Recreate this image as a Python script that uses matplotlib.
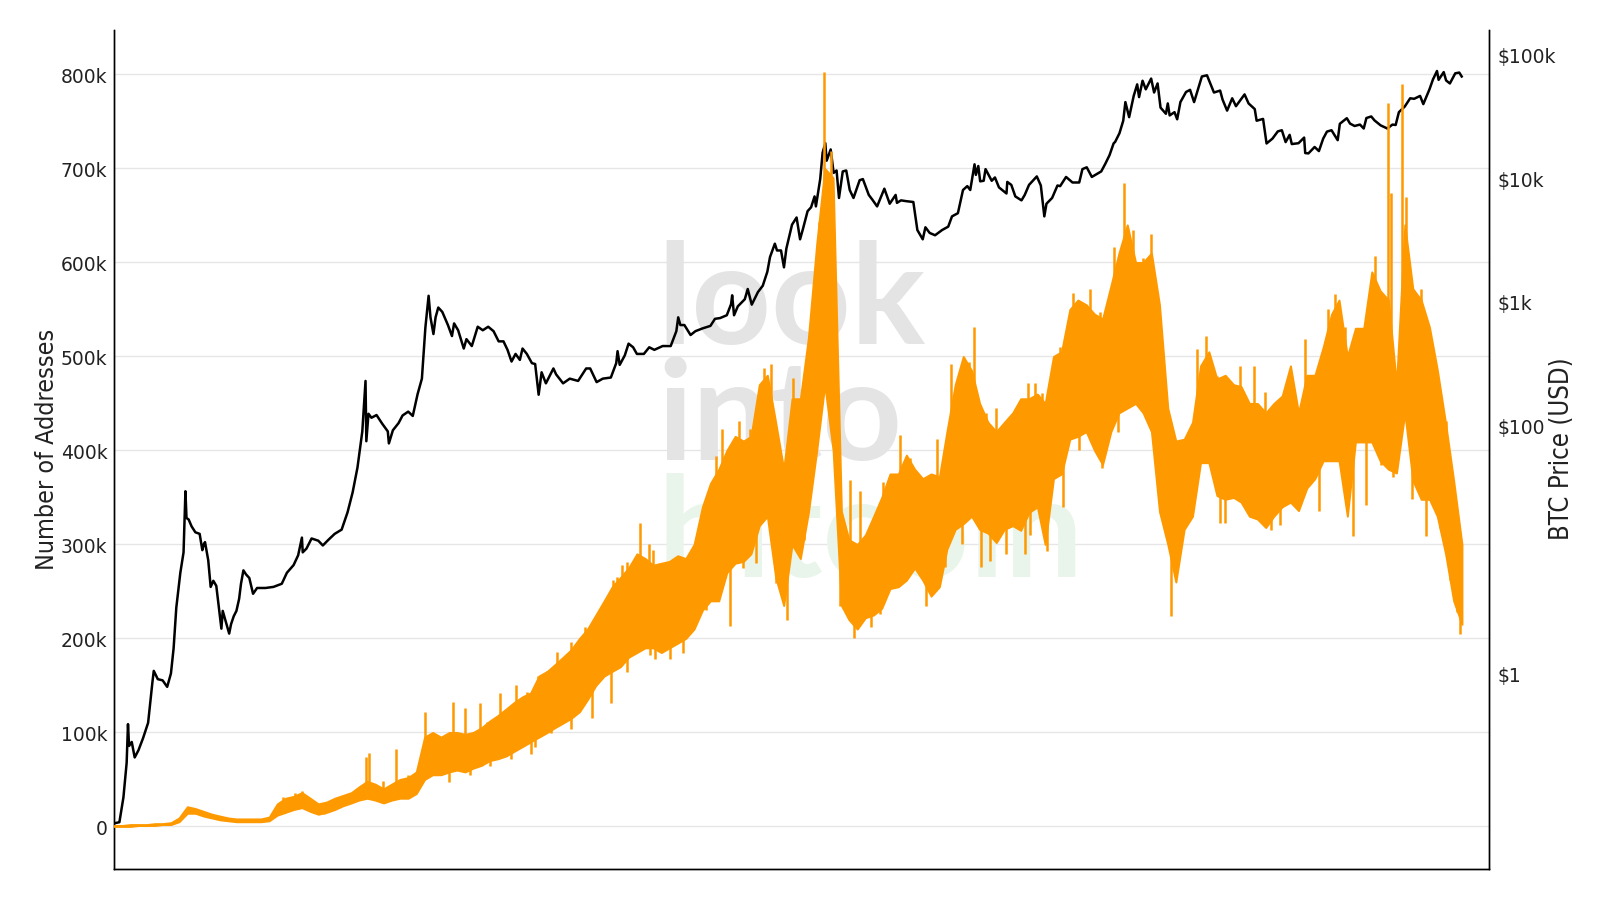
import numpy as np
import pandas as pd
import matplotlib
matplotlib.use("Agg")
import matplotlib.pyplot as plt
from matplotlib.transforms import blended_transform_factory
from matplotlib.ticker import NullLocator
from matplotlib import font_manager as fm

# ---------------- data ----------------
# Monthly dense band of the daily "Number of Addresses" series (thousands), Sep 2010 .. Jun 2024
addr_low_k = [
    0, 0, 0, 1,
    1, 1, 2, 2, 5, 14, 14, 11, 9, 7, 6, 5,
    5, 5, 5, 6, 12, 15, 18, 20, 16, 13, 15, 18,
    22, 25, 28, 30, 28, 25, 28, 30, 30, 35, 50, 55,
    55, 58, 60, 58, 62, 65, 70, 72, 75, 80, 85, 90,
    95, 100, 105, 110, 115, 122, 135, 150, 160, 165, 170, 180,
    185, 190, 190, 185, 190, 195, 200, 210, 230, 240, 240, 270,
    280, 282, 290, 320, 330, 265, 235, 300, 285, 334, 400, 470,
    400, 235, 220, 210, 222, 225, 232, 253, 255, 262, 275, 262,
    245, 255, 295, 316, 322, 330, 316, 312, 302, 316, 320, 315,
    334, 340, 300, 370, 375, 412, 415, 420, 400, 385, 420, 440,
    445, 450, 440, 420, 335, 300, 260, 316, 330, 387, 387, 352,
    348, 350, 345, 330, 327, 318, 330, 340, 345, 336, 360, 370,
    389, 389, 389, 330, 409, 409, 409, 389, 380, 376, 440, 368,
    348, 348, 330, 290, 240, 215,
]
addr_high_k = [
    1, 1, 2, 2,
    2, 3, 3, 4, 9, 21, 19, 16, 13, 11, 9, 8,
    8, 8, 8, 10, 24, 30, 32, 36, 30, 24, 26, 30,
    33, 36, 42, 48, 45, 40, 45, 50, 52, 58, 95, 100,
    95, 100, 100, 98, 100, 105, 112, 118, 125, 132, 138, 142,
    160, 165, 172, 180, 188, 200, 210, 225, 240, 255, 265, 275,
    290, 285, 278, 280, 282, 288, 285, 300, 340, 365, 380, 400,
    415, 410, 415, 470, 480, 430, 380, 455, 455, 520, 620, 700,
    690, 335, 305, 300, 310, 330, 350, 375, 375, 395, 380, 370,
    375, 372, 420, 470, 500, 485, 450, 430, 420, 430, 440, 455,
    455, 460, 450, 500, 505, 550, 560, 555, 545, 540, 575, 610,
    640, 600, 600, 610, 555, 445, 410, 412, 430, 490, 505, 476,
    480, 470, 468, 450, 450, 440, 450, 458, 490, 440, 480, 480,
    510, 545, 560, 500, 530, 530, 590, 570, 560, 470, 640, 572,
    560, 531, 486, 429, 368, 300,
]

# Single-day extremes (spikes) of the address series: decimal year, value (thousands)
spike_year = [
    2012.43, 2012.55, 2012.62, 2013.10, 2013.27, 2013.30, 2013.58, 2013.88, 2014.16, 2014.51,
    2014.72, 2014.92, 2015.03, 2015.12, 2015.39, 2015.51, 2015.71, 2015.83, 2015.94, 2016.07,
    2016.16, 2016.31, 2016.44, 2016.58, 2016.68, 2016.77, 2016.85, 2016.91, 2017.08, 2017.19,
    2017.33, 2017.40, 2017.63, 2017.73, 2017.84, 2017.89, 2017.94, 2018.02, 2018.04, 2018.21,
    2018.31, 2018.55, 2018.72, 2018.82, 2019.10, 2019.24, 2019.31, 2019.43, 2019.48, 2019.60,
    2019.88, 2020.03, 2020.10, 2020.17, 2020.35, 2020.49, 2020.66, 2020.76, 2020.91, 2021.01,
    2021.10, 2021.20, 2021.28, 2021.34, 2021.75, 2021.84, 2021.95, 2022.19, 2022.33, 2022.44,
    2022.53, 2022.63, 2022.85, 2023.00, 2023.09, 2023.16, 2023.26, 2023.40, 2023.45, 2023.50,
    2023.57, 2023.63, 2023.70, 2023.73, 2023.84, 2023.88, 2023.96, 2024.04, 2024.16, 2024.29,
    2014.28, 2014.44, 2014.64, 2014.80, 2015.22, 2015.37, 2015.68, 2015.79, 2015.89, 2016.20,
    2016.36, 2016.52, 2013.00, 2013.45, 2013.70, 2013.80, 2019.70, 2019.95,
    2015.00, 2016.17, 2016.22, 2016.38, 2016.51, 2016.99, 2017.46, 2017.57, 2017.74, 2018.11,
    2018.25, 2018.43, 2018.52, 2018.99, 2019.18, 2019.55, 2019.64, 2019.995, 2020.22, 2020.39,
    2020.78, 2021.44, 2021.48, 2021.54, 2021.61, 2021.98, 2022.04, 2022.39, 2022.51, 2022.60,
    2022.99, 2023.34, 2023.48, 2023.63, 2023.75, 2023.94, 2024.09, 2024.23, 2024.33, 2024.40,
    2024.43,
    2014.12, 2014.33, 2014.54, 2014.75, 2014.96, 2015.16, 2015.37, 2015.58, 2015.77, 2015.94,
    2016.74, 2017.12, 2017.25, 2012.70, 2012.85, 2019.35, 2019.80, 2020.05, 2020.55, 2020.95,
]
spike_k = [
    31, 36, 38, 35, 74, 78, 82, 122, 132, 111,
    124, 143, 160, 165, 171, 212, 207, 265, 281, 323,
    300, 267, 268, 277, 283, 338, 394, 423, 431, 423,
    488, 492, 477, 427, 526, 643, 803, 719, 643, 369,
    357, 366, 416, 392, 412, 492, 465, 494, 531, 440,
    423, 472, 472, 461, 510, 568, 572, 547, 616, 685,
    634, 605, 630, 561, 508, 522, 479, 490, 490, 462,
    440, 456, 519, 442, 550, 566, 531, 494, 513, 552,
    607, 556, 770, 674, 790, 670, 568, 572, 486, 431,
    126, 131, 142, 151, 186, 196, 229, 262, 278, 294,
    272, 267, 30, 48, 55, 60, 445, 445,
    85, 182, 178, 178, 185, 213, 259, 220, 305, 235,
    200, 212, 226, 235, 276, 276, 282, 290, 293, 340,
    381, 316, 224, 276, 311, 323, 323, 330, 315, 321,
    336, 309, 342, 385, 372, 348, 309, 317, 262, 228,
    205,
    47, 55, 64, 72, 77, 99, 104, 115, 131, 164,
    230, 275, 280, 20, 13, 300, 290, 310, 400, 420,
]

# BTC price (USD)
btc_dates = [
    "2010-09-20", "2010-10-05", "2010-10-20", "2010-11-01", "2010-11-06", "2010-11-10", "2010-11-20",
    "2010-12-01", "2010-12-15", "2011-01-01", "2011-01-20", "2011-02-05", "2011-02-10", "2011-02-25",
    "2011-03-15", "2011-04-01", "2011-04-15", "2011-04-25", "2011-05-05", "2011-05-20", "2011-06-01",
    "2011-06-08", "2011-06-12", "2011-06-20", "2011-07-01", "2011-07-15", "2011-07-31", "2011-08-10",
    "2011-08-15", "2011-08-20", "2011-09-01", "2011-09-10", "2011-09-20", "2011-10-01", "2011-10-20",
    "2011-10-25", "2011-11-18", "2011-11-25", "2011-12-05", "2011-12-15", "2011-12-25", "2012-01-01",
    "2012-01-10", "2012-01-20", "2012-02-01", "2012-02-15", "2012-03-01", "2012-04-01", "2012-05-01",
    "2012-06-01", "2012-06-20", "2012-07-15", "2012-08-01", "2012-08-15", "2012-08-18", "2012-09-01",
    "2012-09-20", "2012-10-15", "2012-11-01", "2012-11-20", "2012-12-15", "2013-01-10", "2013-02-01",
    "2013-02-20", "2013-03-10", "2013-03-28", "2013-04-09", "2013-04-12", "2013-04-20", "2013-05-01",
    "2013-05-20", "2013-06-10", "2013-07-01", "2013-07-05", "2013-07-20", "2013-08-10", "2013-08-25",
    "2013-09-15", "2013-10-02", "2013-10-20", "2013-11-05", "2013-11-18", "2013-11-30", "2013-12-07",
    "2013-12-18", "2013-12-26", "2014-01-05", "2014-01-20", "2014-02-10", "2014-02-25", "2014-03-05",
    "2014-03-20", "2014-04-10", "2014-04-20", "2014-05-10", "2014-06-01", "2014-06-20", "2014-07-10",
    "2014-07-30", "2014-08-18", "2014-09-05", "2014-09-20", "2014-10-05", "2014-10-20", "2014-11-05",
    "2014-11-15", "2014-12-01", "2014-12-20", "2015-01-01", "2015-01-14", "2015-01-25", "2015-02-10",
    "2015-03-10", "2015-03-20", "2015-04-15", "2015-05-10", "2015-06-10", "2015-07-10", "2015-07-25",
    "2015-08-18", "2015-09-10", "2015-10-10", "2015-10-30", "2015-11-04", "2015-11-12", "2015-12-01",
    "2015-12-15", "2016-01-01", "2016-01-15", "2016-02-10", "2016-03-01", "2016-03-20", "2016-04-20",
    "2016-05-20", "2016-06-10", "2016-06-17", "2016-06-25", "2016-07-10", "2016-08-02", "2016-08-20",
    "2016-09-15", "2016-10-15", "2016-11-01", "2016-11-20", "2016-12-15", "2016-12-31", "2017-01-04",
    "2017-01-11", "2017-01-25", "2017-02-20", "2017-03-03", "2017-03-18", "2017-04-10", "2017-04-28",
    "2017-05-15", "2017-05-25", "2017-06-12", "2017-06-20", "2017-07-05", "2017-07-16", "2017-07-25",
    "2017-08-15", "2017-09-01", "2017-09-14", "2017-09-25", "2017-10-12", "2017-10-25", "2017-11-07",
    "2017-11-12", "2017-11-28", "2017-12-07", "2017-12-17", "2017-12-22", "2018-01-06", "2018-01-17",
    "2018-01-28", "2018-02-06", "2018-02-20", "2018-03-05", "2018-03-18", "2018-04-01", "2018-04-24",
    "2018-05-06", "2018-05-28", "2018-06-10", "2018-06-28", "2018-07-25", "2018-08-14", "2018-09-05",
    "2018-09-10", "2018-09-25", "2018-10-15", "2018-11-10", "2018-11-20", "2018-11-25", "2018-12-15",
    "2018-12-25", "2019-01-10", "2019-01-30", "2019-02-25", "2019-03-20", "2019-04-03", "2019-04-25",
    "2019-05-14", "2019-05-30", "2019-06-10", "2019-06-26", "2019-07-01", "2019-07-10", "2019-07-17",
    "2019-07-30", "2019-08-06", "2019-08-29", "2019-09-10", "2019-09-25", "2019-10-23", "2019-10-26",
    "2019-11-10", "2019-11-25", "2019-12-18", "2019-12-30", "2020-01-15", "2020-02-13", "2020-02-28",
    "2020-03-12", "2020-03-20", "2020-04-10", "2020-04-30", "2020-05-10", "2020-06-01", "2020-06-25",
    "2020-07-20", "2020-08-01", "2020-08-17", "2020-09-05", "2020-10-10", "2020-10-25", "2020-11-10",
    "2020-11-25", "2020-12-01", "2020-12-17", "2020-12-31", "2021-01-08", "2021-01-22", "2021-02-08",
    "2021-02-21", "2021-02-28", "2021-03-13", "2021-03-25", "2021-04-14", "2021-04-25", "2021-05-08",
    "2021-05-19", "2021-06-08", "2021-06-15", "2021-06-22", "2021-07-10", "2021-07-20", "2021-08-01",
    "2021-08-22", "2021-09-06", "2021-09-21", "2021-10-08", "2021-10-20", "2021-11-08", "2021-11-26",
    "2021-12-04", "2021-12-27", "2022-01-05", "2022-01-22", "2022-02-10", "2022-02-24", "2022-03-28",
    "2022-04-12", "2022-05-05", "2022-05-12", "2022-06-05", "2022-06-18", "2022-07-10", "2022-07-30",
    "2022-08-14", "2022-08-28", "2022-09-12", "2022-09-20", "2022-10-15", "2022-11-05", "2022-11-09",
    "2022-11-21", "2022-12-14", "2022-12-30", "2023-01-15", "2023-01-29", "2023-02-15", "2023-03-10",
    "2023-03-18", "2023-04-13", "2023-04-25", "2023-05-12", "2023-06-01", "2023-06-15", "2023-06-25",
    "2023-07-13", "2023-07-25", "2023-08-17", "2023-09-11", "2023-09-30", "2023-10-12", "2023-10-24",
    "2023-11-15", "2023-12-05", "2023-12-20", "2024-01-11", "2024-01-23", "2024-02-15", "2024-02-28",
    "2024-03-14", "2024-03-20", "2024-04-08", "2024-04-17", "2024-05-01", "2024-05-21", "2024-06-05",
    "2024-06-14",
]
btc_price = [
    0.062, 0.063, 0.10, 0.19, 0.39, 0.26, 0.28,
    0.21, 0.24, 0.30, 0.40, 0.85, 1.05, 0.90,
    0.88, 0.78, 1.00, 1.6, 3.4, 6.5, 9.5,
    29.6, 18, 17.5, 15.4, 13.8, 13.4, 9.9,
    11.0, 11.5, 8.2, 5.0, 5.6, 5.1, 2.3,
    3.2, 2.1, 2.5, 2.9, 3.2, 4.0, 5.3,
    6.8, 6.3, 5.9, 4.4, 4.9, 4.9, 5.0,
    5.3, 6.5, 7.5, 9.0, 12.5, 9.5, 10.2,
    12.3, 11.8, 10.8, 11.9, 13.4, 14.5, 20,
    29, 46, 90, 230, 75, 125, 116,
    122, 104, 90, 72, 92, 105, 121,
    130, 120, 180, 240, 620, 1120, 750,
    550, 750, 900, 830, 650, 530, 670,
    590, 420, 500, 440, 630, 590, 630,
    580, 480, 480, 410, 330, 380, 340,
    420, 380, 320, 315, 178, 270, 220,
    290, 260, 220, 240, 230, 290, 290,
    225, 240, 245, 320, 400, 310, 370,
    460, 430, 380, 380, 430, 410, 440,
    440, 580, 750, 650, 650, 540, 580,
    610, 640, 730, 740, 780, 960, 1130,
    780, 920, 1050, 1270, 950, 1200, 1350,
    1750, 2300, 2950, 2600, 2600, 1900, 2700,
    4200, 4800, 3200, 3900, 5400, 5800, 7100,
    5900, 9800, 16000, 19100, 13800, 17000, 11000,
    11500, 6900, 11300, 11500, 8000, 6900, 9600,
    9800, 7300, 6700, 5900, 8200, 6200, 7300,
    6300, 6600, 6500, 6400, 4500, 3800, 3200,
    4000, 3600, 3450, 3800, 4050, 4900, 5200,
    8000, 8600, 8000, 12900, 10600, 12500, 9400,
    9500, 11800, 9500, 10100, 8400, 7500, 9300,
    8800, 7100, 6600, 7300, 8800, 10300, 8700,
    4900, 6200, 6900, 8700, 8600, 10200, 9200,
    9200, 11800, 12200, 10200, 11300, 13000, 15300,
    19000, 19600, 23000, 29000, 41000, 31000, 46000,
    57000, 45000, 61000, 52000, 63500, 49000, 58000,
    37000, 33000, 40000, 32000, 34000, 29800, 41000,
    49500, 51500, 41000, 54000, 66000, 67500, 54000,
    49000, 50800, 43000, 35000, 44000, 38000, 47300,
    40000, 36000, 29000, 30000, 19000, 20800, 23800,
    24300, 19500, 22300, 18800, 19100, 21200, 15900,
    15800, 17800, 16500, 20800, 23700, 24300, 20200,
    27400, 30400, 27500, 26300, 27000, 25100, 30500,
    31400, 29200, 26600, 25100, 27000, 26800, 34000,
    37800, 44000, 43600, 46000, 39500, 52000, 62500,
    73100, 62000, 71600, 61300, 58000, 70000, 71000,
    66000,
]

left_ticks_k = [0, 100, 200, 300, 400, 500, 600, 700, 800]
left_tick_labels = ["0", "100k", "200k", "300k", "400k", "500k", "600k", "700k", "800k"]
right_ticks = [1, 100, 1000, 10000, 100000]
right_tick_labels = ["$1", "$100", "$1k", "$10k", "$100k"]
x_tick_years = [2012, 2014, 2016, 2018, 2020, 2022, 2024]

# ---------------- helpers ----------------
def year_to_ts(y):
    yi = int(np.floor(y))
    start = pd.Timestamp(f"{yi}-01-01")
    return start + pd.Timedelta(days=(y - yi) * 365.25)

def ts_to_year(t):
    return t.year + (t.dayofyear - 1) / 365.25

# condensed font for axis titles, if one is installed
def find_condensed():
    for f in fm.fontManager.ttflist:
        n = f.name.lower()
        fn = f.fname.lower()
        if f.style != "normal" or f.weight not in (400, "normal", "regular"):
            continue
        if ("narrow" in n or "condensed" in n or "condensed" in fn or "narrow" in fn) and "bold" not in fn:
            return fm.FontProperties(fname=f.fname)
    return fm.FontProperties(family="DejaVu Sans")

# ---------------- figure ----------------
ORANGE = "#ff9900"
W, H = 1600, 912
fig = plt.figure(figsize=(W / 100, H / 100), dpi=100)
fig.patch.set_facecolor("white")

left, right, top, bottom = 114.3, 1488.8, 30.6, 870.4
ax2 = fig.add_axes([left / W, 1 - bottom / H, (right - left) / W, (bottom - top) / H])  # price, log
ax = ax2.twinx()  # addresses (drawn on top)
ax.yaxis.set_label_position("left")
ax.yaxis.tick_left()
ax2.yaxis.set_label_position("right")
ax2.yaxis.tick_right()

months = pd.date_range("2010-09-01", periods=len(addr_low_k), freq="MS") + pd.Timedelta(days=14)
lo = np.array(addr_low_k) * 1000.0
hi = np.array(addr_high_k) * 1000.0
bdates = pd.to_datetime(btc_dates)

month_years = np.array([ts_to_year(t) for t in months])
sdates = [year_to_ts(y) for y in spike_year]
spike_base = np.interp(spike_year, month_years, (lo + hi) / 2)
spike_top = np.array(spike_k) * 1000.0

xmin, xmax = pd.Timestamp("2010-09-16"), pd.Timestamp("2024-09-23")
ax.set_xlim(xmin, xmax)
ax2.set_xlim(xmin, xmax)
ax.set_ylim(-45.7e3, 847.7e3)
ax2.set_yscale("log")
ax2.set_ylim(0.0262, 157.8e3)

# gridlines (placed in address coordinates, drawn beneath everything)
tr = blended_transform_factory(ax2.transAxes, ax.transData)
for v in left_ticks_k:
    ax2.plot([0, 1], [v * 1000, v * 1000], transform=tr, color="#e6e6e6", lw=1.0, zorder=0)

# watermark
def fx(px):
    return (px - left) / (right - left)
def fy(py):
    return (bottom - py) / (bottom - top)
wm_kw = dict(transform=ax2.transAxes, fontsize=100, fontweight="bold",
             family=["Lato", "DejaVu Sans"], ha="left", va="baseline", zorder=0.5)
ax2.text(fx(657), fy(344), "look", color="#e4e4e4", **wm_kw)
ax2.text(fx(657), fy(460), "into", color="#e4e4e4", **wm_kw)
ax2.text(fx(657), fy(577), "bitcoin", color="#e9f5ea", **wm_kw)

# BTC price
ax2.plot(bdates, btc_price, color="black", lw=1.8, zorder=2, solid_joinstyle="round")

# addresses
ax.fill_between(months, lo, hi, color=ORANGE, edgecolor=ORANGE, lw=1.4, zorder=3)
ax.vlines(sdates, spike_base, spike_top, color=ORANGE, lw=1.8, zorder=3)

# axes styling
ax.set_zorder(ax2.get_zorder() + 1)
ax.patch.set_visible(False)
for a in (ax, ax2):
    a.spines["top"].set_visible(False)
    for s in ("left", "right", "bottom"):
        a.spines[s].set_color("black")
        a.spines[s].set_linewidth(1.0)

ax.set_yticks([v * 1000 for v in left_ticks_k])
ax.set_yticklabels(left_tick_labels)
ax2.set_yticks(right_ticks)
ax2.set_yticklabels(right_tick_labels)
ax2.yaxis.set_minor_locator(NullLocator())
xt = [pd.Timestamp(f"{y}-01-01") for y in x_tick_years]
ax2.set_xticks(xt)
ax2.set_xticklabels([str(y) for y in x_tick_years])
ax.set_xticks([])
ax2.xaxis.set_minor_locator(NullLocator())

ax.tick_params(axis="y", length=0, pad=5, labelsize=13.5, labelcolor="#222222")
ax2.tick_params(axis="y", length=0, pad=6, labelsize=13.5, labelcolor="#222222")
ax2.tick_params(axis="x", length=0, pad=9, labelsize=13.5, labelcolor="#222222")

# axis titles, sized so their length matches the reference
tfp = find_condensed()
fig.canvas.draw()
renderer = fig.canvas.get_renderer()
for a, txt, target, xpos in ((ax, "Number of Addresses", 241.0, fx(47)),
                             (ax2, "BTC Price (USD)", 182.0, fx(1562))):
    fp = tfp.copy()
    fp.set_size(20)
    lab = a.set_ylabel(txt, fontproperties=fp, color="#222222")
    ext = lab.get_window_extent(renderer)
    fp.set_size(20 * target / max(ext.height, 1))
    lab.set_fontproperties(fp)
    lab.set_va("center")
    lab.set_ha("center")
    a.yaxis.set_label_coords(xpos, fy(449))

fig.savefig("out.png", dpi=100, facecolor="white")
